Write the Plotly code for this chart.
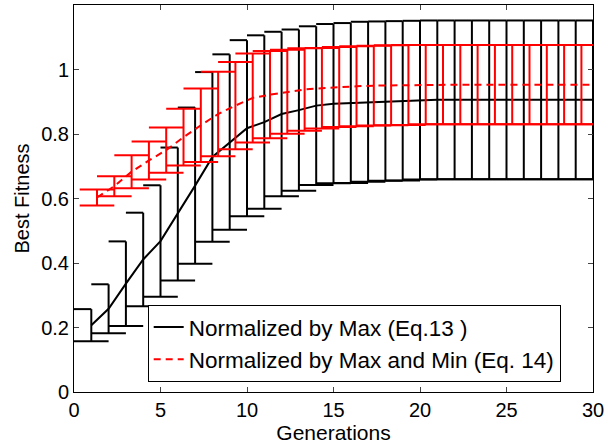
import plotly.graph_objects as go

# ---------------- data ----------------
generations = list(range(1, 31))

# Normalized by Max (Eq.13): mean and std of best fitness
max_mean = [0.207, 0.258, 0.336, 0.411, 0.468, 0.552, 0.640, 0.729, 0.775, 0.818,
            0.837, 0.862, 0.874, 0.888, 0.894, 0.896, 0.900, 0.902, 0.903, 0.905,
            0.906, 0.906, 0.906, 0.906, 0.906, 0.906, 0.906, 0.906, 0.906, 0.906]
max_std = [0.050, 0.076, 0.131, 0.145, 0.173, 0.206, 0.242, 0.263, 0.272, 0.273,
           0.269, 0.255, 0.250, 0.246, 0.247, 0.248, 0.248, 0.247, 0.247, 0.246,
           0.246, 0.246, 0.246, 0.246, 0.246, 0.246, 0.246, 0.246, 0.246, 0.246]

# Normalized by Max and Min (Eq. 14): plotted slightly shifted in generation
minmax_shift = 0.33
minmax_mean = [0.603, 0.638, 0.683, 0.718, 0.750, 0.790, 0.827, 0.862, 0.888, 0.912,
               0.922, 0.931, 0.938, 0.942, 0.946, 0.948, 0.950, 0.951, 0.952, 0.953,
               0.953, 0.953, 0.953, 0.953, 0.953, 0.953, 0.953, 0.953, 0.953, 0.953]
minmax_std = [0.025, 0.031, 0.051, 0.059, 0.070, 0.088, 0.114, 0.131, 0.135, 0.138,
              0.135, 0.130, 0.128, 0.125, 0.124, 0.124, 0.124, 0.124, 0.124, 0.123,
              0.123, 0.123, 0.123, 0.123, 0.123, 0.123, 0.123, 0.123, 0.123, 0.123]

x_ticks = [0, 5, 10, 15, 20, 25, 30]
y_ticks = [0, 0.2, 0.4, 0.6, 0.8, 1.0]
y_tick_text = ["0", "0.2", "0.4", "0.6", "0.8", "1"]

labels = ["Normalized by Max (Eq.13 )", "Normalized by Max and Min (Eq. 14)"]


def errorbar_segments(xs, means, stds, top_span, bot_span):
    """Build vertical bars plus caps as one polyline with gaps."""
    sx, sy = [], []
    for x, m, s in zip(xs, means, stds):
        lo, hi = m - s, m + s
        sx += [x, x, None]
        sy += [lo, hi, None]
        sx += [x + top_span[0], x + top_span[1], None]
        sy += [hi, hi, None]
        sx += [x + bot_span[0], x + bot_span[1], None]
        sy += [lo, lo, None]
    return sx, sy


fig = go.Figure()

bx, by = errorbar_segments(generations, max_mean, max_std, (-1, 0), (-1, 1))
fig.add_trace(go.Scatter(x=bx, y=by, mode="lines", showlegend=False,
                         line=dict(color="black", width=2), hoverinfo="skip"))
fig.add_trace(go.Scatter(x=generations, y=max_mean, mode="lines", name=labels[0],
                         line=dict(color="black", width=2)))

red_x = [g + minmax_shift for g in generations]
rx, ry = errorbar_segments(red_x, minmax_mean, minmax_std, (-1, 1), (-1, 1))
fig.add_trace(go.Scatter(x=rx, y=ry, mode="lines", showlegend=False,
                         line=dict(color="red", width=2), hoverinfo="skip"))
fig.add_trace(go.Scatter(x=red_x, y=minmax_mean, mode="lines", name=labels[1],
                         line=dict(color="red", width=2, dash="7px,5px")))

font = "Liberation Sans, Arial, Helvetica, sans-serif"
fig.update_layout(
    width=608, height=445,
    margin=dict(l=74, r=12, t=4, b=53),
    paper_bgcolor="white", plot_bgcolor="white",
    font=dict(family=font, size=20, color="black"),
    legend=dict(x=0.142, y=0.026, xanchor="left", yanchor="bottom",
                bgcolor="white", bordercolor="black", borderwidth=1,
                font=dict(size=22.5), itemwidth=30, tracegroupgap=0),
)
fig.update_xaxes(range=[0, 30], tickvals=x_ticks, ticks="inside", ticklen=5,
                 showline=True, linecolor="black", linewidth=1, mirror="ticks",
                 showgrid=False, zeroline=False, tickfont=dict(size=20),
                 title=dict(text="Generations", font=dict(size=21), standoff=1))
fig.update_yaxes(range=[0, 1.2], tickvals=y_ticks, ticktext=y_tick_text,
                 ticks="inside", ticklen=5,
                 showline=True, linecolor="black", linewidth=1, mirror="ticks",
                 showgrid=False, zeroline=False, tickfont=dict(size=20),
                 title=dict(text="Best Fitness", font=dict(size=20), standoff=6))

fig.write_html("out.html")
